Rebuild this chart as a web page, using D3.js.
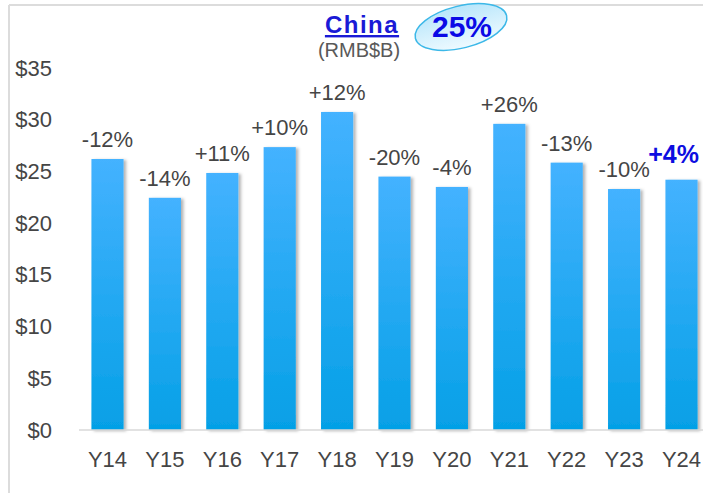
<!DOCTYPE html>
<html>
<head>
<meta charset="utf-8">
<script src="https://cdn.jsdelivr.net/npm/d3@7"></script>
<style>
  html, body { margin: 0; padding: 0; background: #fff; }
  svg { display: block; font-family: "Liberation Sans", Arial, sans-serif; }
</style>
</head>
<body>
<svg id="chart" width="703" height="493"></svg>
<script>
// Annual revenue, China segment (RMB billions)
const categories = ["Y14", "Y15", "Y16", "Y17", "Y18", "Y19", "Y20", "Y21", "Y22", "Y23", "Y24"];
const revenue = [26.2, 22.45, 24.85, 27.35, 30.75, 24.5, 23.5, 29.6, 25.85, 23.3, 24.2];
const growthLabels = ["-12%", "-14%", "+11%", "+10%", "+12%", "-20%", "-4%", "+26%", "-13%", "-10%", "+4%"];
const yTicks = [0, 5, 10, 15, 20, 25, 30, 35];
const regionTitle = "China";
const unitLabel = "(RMB$B)";
const shareLabel = "25%";

const svg = d3.select("#chart");
const W = 703, H = 493;

const defs = svg.append("defs");
const grad = defs.append("linearGradient")
  .attr("id", "barGrad").attr("x1", 0).attr("y1", 0).attr("x2", 0).attr("y2", 1);
grad.append("stop").attr("offset", "0%").attr("stop-color", "#44b2ff");
grad.append("stop").attr("offset", "100%").attr("stop-color", "#05a0e6");

const ellGrad = defs.append("linearGradient")
  .attr("id", "ellGrad").attr("x1", 0).attr("y1", 0).attr("x2", 0).attr("y2", 1);
ellGrad.append("stop").attr("offset", "0%").attr("stop-color", "#b8e6fb");
ellGrad.append("stop").attr("offset", "100%").attr("stop-color", "#eefaff");

const shadow = defs.append("filter").attr("id", "barShadow")
  .attr("x", "-20%").attr("y", "-5%").attr("width", "150%").attr("height", "115%");
shadow.append("feDropShadow")
  .attr("dx", 2.5).attr("dy", 1).attr("stdDeviation", 1.5)
  .attr("flood-color", "#000").attr("flood-opacity", 0.3);

// Frame lines (top and left)
svg.append("line").attr("x1", 9).attr("x2", W).attr("y1", 5).attr("y2", 5)
  .attr("stroke", "#dcdcdc").attr("stroke-width", 2);
svg.append("line").attr("x1", 9).attr("x2", 9).attr("y1", 5).attr("y2", H)
  .attr("stroke", "#dcdcdc").attr("stroke-width", 2);

// Scales
const x = d3.scaleBand()
  .domain(categories)
  .range([78.8, 710.2])
  .paddingInner(0.44)
  .paddingOuter(0.22);
const y = d3.scaleLinear().domain([0, 35]).range([430, 68]);

// Y axis
const yAxis = svg.append("g")
  .attr("transform", "translate(55,0)")
  .call(d3.axisLeft(y).tickValues(yTicks).tickSize(0).tickPadding(3)
    .tickFormat(d => "$" + d));
yAxis.select(".domain").remove();
yAxis.selectAll("text")
  .attr("font-size", 22).attr("fill", "#454545")
  .attr("font-family", "'Liberation Sans', Arial, sans-serif");

// Bars
svg.append("g").selectAll("rect")
  .data(revenue)
  .join("rect")
  .attr("x", (d, i) => x(categories[i]))
  .attr("y", d => y(d))
  .attr("width", x.bandwidth())
  .attr("height", d => y(0) - y(d))
  .attr("fill", "url(#barGrad)")
  .attr("filter", "url(#barShadow)");

// Baseline
svg.append("line").attr("x1", 79).attr("x2", W).attr("y1", y(0)).attr("y2", y(0))
  .attr("stroke", "#d9d9d9").attr("stroke-width", 1.5);

// X axis labels
const xAxis = svg.append("g")
  .attr("transform", `translate(0,${y(0)})`)
  .call(d3.axisBottom(x).tickSize(0).tickPadding(21));
xAxis.select(".domain").remove();
xAxis.selectAll("text")
  .attr("font-size", 22).attr("fill", "#454545")
  .attr("font-family", "'Liberation Sans', Arial, sans-serif");

// Growth labels above bars
const last = revenue.length - 1;
svg.append("g").selectAll("text")
  .data(growthLabels)
  .join("text")
  .attr("x", (d, i) => x(categories[i]) + x.bandwidth() / 2 - (i === last ? 8 : 0))
  .attr("y", (d, i) => y(revenue[i]) - (i === last ? 17 : 12))
  .attr("text-anchor", "middle")
  .attr("font-size", (d, i) => i === last ? 25 : 22)
  .attr("font-weight", (d, i) => i === last ? "bold" : "normal")
  .attr("fill", (d, i) => i === last ? "#0d0de0" : "#454545")
  .text(d => d);

// Title
svg.append("text")
  .attr("x", 362).attr("y", 33)
  .attr("text-anchor", "middle")
  .attr("font-size", 24).attr("font-weight", "bold")
  .attr("letter-spacing", 1.5)
  .attr("fill", "#1a1ad6")
  .attr("text-decoration", "underline")
  .text(regionTitle);
svg.append("text")
  .attr("x", 359).attr("y", 57)
  .attr("text-anchor", "middle")
  .attr("font-size", 20)
  .attr("fill", "#595959")
  .text(unitLabel);

// Share callout
svg.append("ellipse")
  .attr("cx", 461).attr("cy", 27).attr("rx", 47).attr("ry", 21)
  .attr("transform", "rotate(-14,461,27)")
  .attr("fill", "url(#ellGrad)")
  .attr("stroke", "#3cb8e8").attr("stroke-width", 1.5);
svg.append("text")
  .attr("x", 462).attr("y", 37)
  .attr("text-anchor", "middle")
  .attr("font-size", 30).attr("font-weight", "bold")
  .attr("fill", "#0a0ae6")
  .text(shareLabel);
</script>
</body>
</html>
